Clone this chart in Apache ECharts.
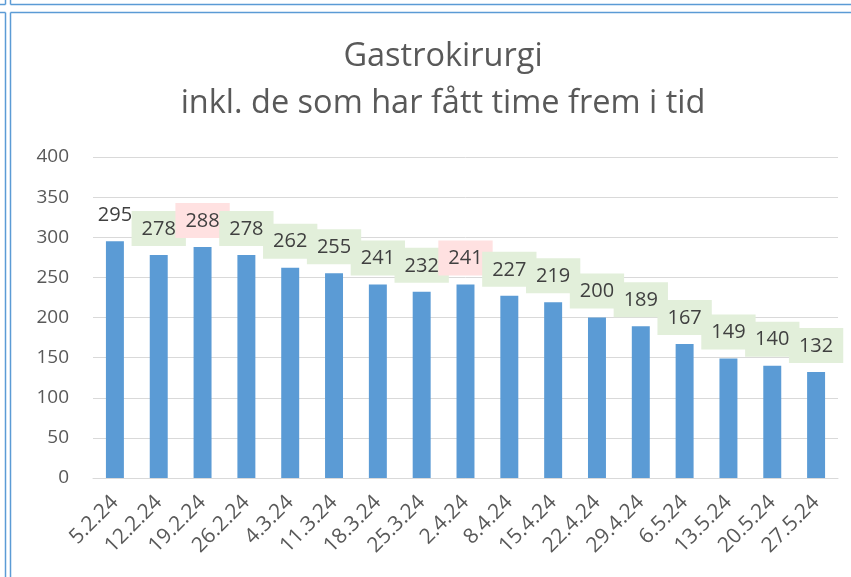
<!DOCTYPE html>
<html>
<head>
<meta charset="utf-8">
<script src="https://cdn.jsdelivr.net/npm/echarts@6/dist/echarts.min.js"></script>
<style>
  html, body { margin: 0; padding: 0; background: #fff; }
  #chart { width: 851px; height: 577px; }
</style>
</head>
<body>
<div id="chart"></div>
<script>
var weeks = ['5.2.24', '12.2.24', '19.2.24', '26.2.24', '4.3.24', '11.3.24', '18.3.24', '25.3.24', '2.4.24',
             '8.4.24', '15.4.24', '22.4.24', '29.4.24', '6.5.24', '13.5.24', '20.5.24', '27.5.24'];
var patients = [295, 278, 288, 278, 262, 255, 241, 232, 241, 227, 219, 200, 189, 167, 149, 140, 132];
// label mark: 0 = none, 1 = down (green), 2 = up (red)
var trend = [0, 1, 2, 1, 1, 1, 1, 1, 2, 1, 1, 1, 1, 1, 1, 1, 1];

var trendColors = ['transparent', '#e2efda', '#ffe1e1'];

var myChart = echarts.init(document.getElementById('chart'));

var frameColor = '#5b9bd5';
function line(x1, y1, x2, y2) {
    return {
        type: 'line',
        shape: { x1: x1, y1: y1, x2: x2, y2: y2 },
        style: { stroke: frameColor, lineWidth: 1.5 },
        silent: true
    };
}

var option = {
    animation: false,
    textStyle: { fontFamily: 'Open Sans' },
    title: {
        text: 'Gastrokirurgi\ninkl. de som har fått time frem i tid',
        left: 443,
        textAlign: 'center',
        top: 33,
        padding: 0,
        textStyle: {
            fontFamily: 'Open Sans',
            fontWeight: 'normal',
            fontSize: 32.5,
            lineHeight: 47,
            color: '#595959'
        }
    },
    grid: { left: 93, right: 13, top: 157, bottom: 99 },
    graphic: [
        line(0, 4.5, 5.5, 4.5), line(10.5, 4.5, 851, 4.5),
        line(5.5, 0, 5.5, 4.5), line(10.5, 0, 10.5, 4.5),
        line(0, 12.5, 5.5, 12.5), line(10.5, 12.5, 851, 12.5),
        line(5.5, 12.5, 5.5, 577), line(10.5, 12.5, 10.5, 577)
    ],
    xAxis: {
        type: 'category',
        data: weeks,
        axisLine: { lineStyle: { color: '#d9d9d9' } },
        axisTick: { show: false },
        axisLabel: {
            rotate: 45,
            interval: 0,
            fontSize: 21,
            color: '#595959',
            margin: 21
        }
    },
    yAxis: {
        type: 'value',
        min: 0,
        max: 400,
        interval: 50,
        axisLine: { show: false },
        axisTick: { show: false },
        splitLine: { lineStyle: { color: '#d9d9d9' } },
        axisLabel: { fontSize: 19, color: '#595959', margin: 24 }
    },
    series: [
        {
            type: 'bar',
            barWidth: '41%',
            itemStyle: { color: '#5b9bd5' },
            label: {
                show: true,
                position: 'top',
                distance: 9,
                fontSize: 20,
                color: '#404040',
                padding: [8, 10, 7, 10]
            },
            data: patients.map(function (v, i) {
                return {
                    value: v,
                    label: { backgroundColor: trendColors[trend[i]] }
                };
            })
        }
    ]
};

myChart.setOption(option);
</script>
</body>
</html>
